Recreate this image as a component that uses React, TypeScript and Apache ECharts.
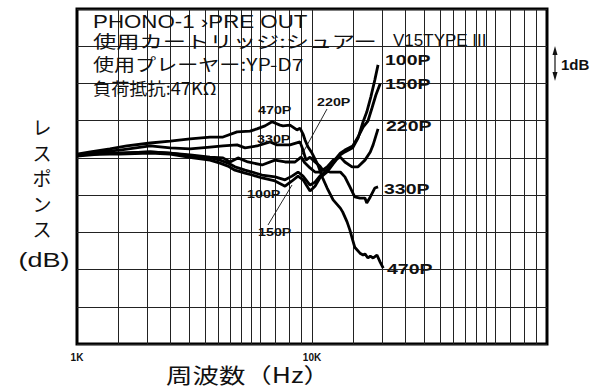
import React, { useEffect, useRef } from 'react';
import * as echarts from 'echarts';

// Frequency (Hz) and response (dB), one pair of arrays per load capacitance
const freq100 = [1000,1250,1520,2050,2490,3120,3680,4060,4390,4700,5190,5560,6130,6960,7680,8220,8720,9160,9810,10300,10800,11600,12300,13200,13800,14900,15700,16500,17100,17800,18500,19100];
const db100 = [0.08,0.10,0.10,0.13,0.10,0.00,-0.06,-0.14,-0.22,-0.33,-0.41,-0.46,-0.54,-0.62,-0.76,-0.62,-0.49,-0.59,-0.89,-0.76,-0.54,-0.38,-0.16,0.08,0.16,0.27,0.53,0.97,1.23,1.64,2.09,2.50];

const freq150 = [1000,1250,1520,2050,2490,3120,3680,4060,4390,4700,5190,5560,6130,6960,7680,8220,8720,9160,9810,10300,10800,11600,12300,13200,13800,14900,15700,16500,17300,18000,18700,19500];
const db150 = [0.08,0.13,0.13,0.16,0.13,0.05,0.00,-0.06,-0.14,-0.24,-0.33,-0.38,-0.46,-0.51,-0.59,-0.49,-0.38,-0.49,-0.73,-0.65,-0.49,-0.33,-0.11,0.13,0.21,0.32,0.56,0.83,0.99,1.34,1.69,1.99];

const freq220 = [1000,1250,1520,2050,2490,3030,3680,4180,4480,4840,5340,6130,6960,7680,8470,8980,9340,9810,10300,10800,11600,12300,13200,13800,14800,15700,16800,17700,18200,18700,19100];
const db220 = [0.05,0.10,0.13,0.16,0.13,0.08,0.02,0.00,-0.11,0.00,-0.11,-0.19,-0.06,-0.11,-0.11,0.02,-0.14,-0.27,-0.38,-0.38,-0.24,-0.06,0.02,-0.11,-0.24,-0.24,-0.06,0.16,0.35,0.59,0.78];

const freq330 = [1000,1250,1520,2050,2490,3030,3680,4180,4800,5190,5830,6630,7100,8060,8890,9160,9430,9810,10300,10800,11100,11900,13200,13800,14500,15200,16000,16800,17100,17700,18500,19100];
const db330 = [0.08,0.16,0.21,0.32,0.27,0.24,0.29,0.32,0.35,0.27,0.32,0.43,0.35,0.35,0.43,0.21,-0.06,0.02,-0.11,-0.22,-0.32,-0.38,-0.38,-0.51,-0.78,-1.05,-1.08,-1.08,-1.21,-1.05,-0.81,-0.78];

const freq470 = [1000,1140,1380,1630,2050,2490,3030,3680,4180,4800,5450,5830,6310,6760,7310,7530,8060,8630,8890,9160,9340,9620,10000,10600,11100,11600,12300,13200,13500,14100,14500,14900,15200,16000,16500,16800,17300,17700,18200,18900,19500,20100];
const db470 = [0.10,0.16,0.24,0.32,0.40,0.45,0.51,0.56,0.56,0.70,0.72,0.78,0.86,0.97,0.88,0.86,0.88,0.75,0.80,0.64,0.48,0.29,0.13,-0.19,-0.54,-0.81,-1.13,-1.35,-1.45,-1.72,-1.94,-2.21,-2.40,-2.56,-2.61,-2.58,-2.69,-2.64,-2.69,-2.61,-2.80,-2.96];

const seriesNames = ['100P', '150P', '220P', '330P', '470P'];
const xTickValues = [1000, 10000];
const xTickLabels = ['1K', '10K'];
const xGridValues = [1500,2000,2500,3000,3500,4000,4500,5000,5500,6000,7000,8000,9000,10000,15000,20000,25000,30000,35000,40000,45000,50000,55000,60000,70000,80000,90000];

const zip = (f: number[], d: number[]) => f.map((v, i) => [v, d[i]]);

const JP = "'Noto Sans CJK JP', sans-serif";
const LAT = "'Liberation Sans', Arial, sans-serif";

function txt(text: string, x: number, y: number, size: number, family: string, scaleX = 1, weight = 'normal', align = 'left', vAlign = 'middle', extra: any = {}) {
  return {
    type: 'text', x, y, scaleX, silent: true, z: 100,
    style: {
      text, fontSize: size, fontFamily: family, fontWeight: weight, fill: '#111',
      align, textAlign: align, verticalAlign: vAlign, textVerticalAlign: vAlign, ...extra,
    },
  };
}

export default function App() {
  const ref = useRef<HTMLDivElement>(null);
  useEffect(() => {
    const chart = echarts.init(ref.current!, null, { renderer: 'svg' });
    const datasets = [zip(freq100, db100), zip(freq150, db150), zip(freq220, db220), zip(freq330, db330), zip(freq470, db470)];
    const option: any = {
      animation: false,
      backgroundColor: '#fff',
      grid: { left: 77, top: 9, width: 470, height: 335, show: true, borderColor: '#000', borderWidth: 3, backgroundColor: 'transparent' },
      xAxis: {
        type: 'log', logBase: 10, min: 1000, max: 100000,
        axisLine: { show: false }, axisTick: { show: false }, splitLine: { show: false }, minorSplitLine: { show: false },
        axisLabel: {
          show: true, margin: 8, fontSize: 10, fontWeight: 'bold', fontFamily: LAT, color: '#111',
          alignMinLabel: 'left',
          formatter: (v: number) => {
            const i = xTickValues.findIndex((t) => Math.abs(t - v) < 1);
            return i >= 0 ? xTickLabels[i] : '';
          },
        },
      },
      yAxis: {
        type: 'value', min: -5, max: 4, interval: 1,
        axisLine: { show: false }, axisTick: { show: false }, axisLabel: { show: false },
        splitLine: { show: true, lineStyle: { color: '#222', width: 1 } },
      },
      series: [
        {
          type: 'line', data: [], z: 1, silent: true,
          markLine: {
            silent: true, symbol: ['none', 'none'], label: { show: false },
            lineStyle: { color: '#222', width: 1, type: 'solid' },
            data: xGridValues.map((v) => ({ xAxis: v })),
          },
        },
        ...datasets.map((d, i) => ({
          name: seriesNames[i], type: 'line', data: d, showSymbol: false, symbol: 'none', z: 5,
          lineStyle: { color: '#000', width: 2.8 }, silent: true,
        })),
      ],
      graphic: [
        txt('PHONO-1 ›PRE OUT', 93, 21.5, 18, LAT, 1.24),
        txt('使用カートリッジ:シュアー', 93, 40.5, 17, JP, 1.37),
        txt('V15TYPE III', 393, 40.5, 17, LAT, 1.0),
        txt('使用プレーヤー:YP-D7', 93, 64, 17, JP, 1.24),
        txt('負荷抵抗:47KΩ', 93, 87.5, 17, JP, 1.07),
        txt('レ\nス\nポ\nン\nス', 42, 114, 19, JP, 1, 'normal', 'center', 'top', { lineHeight: 25.5 }),
        txt('(dB)', 44, 260, 20, LAT, 1.35, 'normal', 'center'),
        txt('周波数（Hz）', 166, 374, 21, JP, 1.26),
        txt('1dB', 561, 64, 15, LAT, 1.0, 'bold'),
        { type: 'line', silent: true, z: 100, shape: { x1: 555, y1: 50, x2: 555, y2: 77 }, style: { stroke: '#111', lineWidth: 1.2 } },
        { type: 'polygon', silent: true, z: 100, shape: { points: [[552.5, 55], [555, 46], [557.5, 55]] }, style: { fill: '#111' } },
        { type: 'polygon', silent: true, z: 100, shape: { points: [[552.5, 72], [555, 81], [557.5, 72]] }, style: { fill: '#111' } },
        txt('100P', 385, 60, 15, LAT, 1.3, 'bold'),
        txt('150P', 385, 84, 15, LAT, 1.3, 'bold'),
        txt('220P', 386, 126, 15, LAT, 1.3, 'bold'),
        txt('330P', 384, 189, 15, LAT, 1.3, 'bold'),
        txt('470P', 387, 269, 15, LAT, 1.3, 'bold'),
        txt('470P', 258, 110, 11, LAT, 1.3, 'bold'),
        txt('330P', 257, 139, 11, LAT, 1.3, 'bold'),
        txt('220P', 317, 102, 11, LAT, 1.3, 'bold'),
        txt('100P', 247, 194, 11, LAT, 1.3, 'bold'),
        txt('150P', 258, 232, 11, LAT, 1.3, 'bold'),
        { type: 'line', silent: true, z: 100, shape: { x1: 327, y1: 109, x2: 300, y2: 158 }, style: { stroke: '#111', lineWidth: 0.9 } },
        { type: 'line', silent: true, z: 100, shape: { x1: 268, y1: 225, x2: 292, y2: 185 }, style: { stroke: '#111', lineWidth: 0.9 } },
      ],
    };
    chart.setOption(option);
    return () => chart.dispose();
  }, []);
  return <div ref={ref} style={{ position: 'fixed', left: 0, top: 0, width: 590, height: 388, background: '#fff' }} />;
}
